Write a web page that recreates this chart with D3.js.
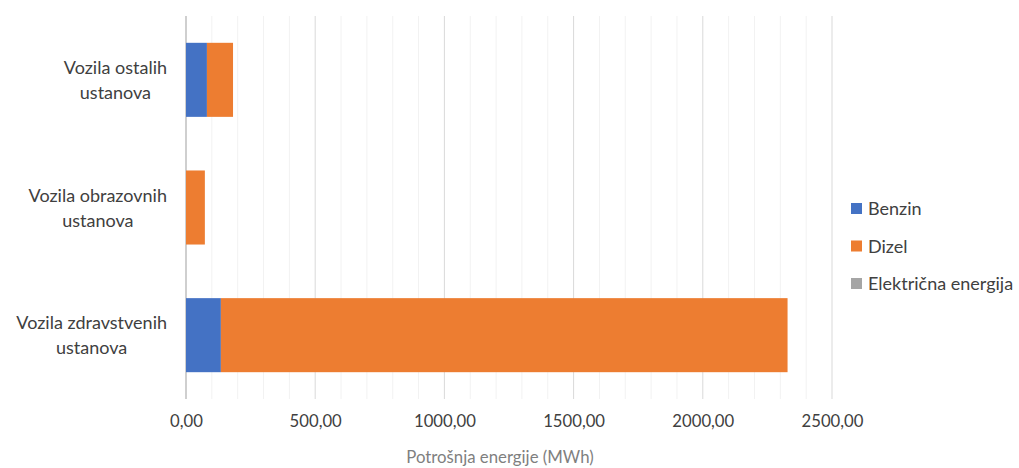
<!DOCTYPE html>
<html><head><meta charset="utf-8">
<script src="https://cdn.jsdelivr.net/npm/d3@7"></script>
<style>body{margin:0;background:#fff;} text{font-family:Lato,"Open Sans",sans-serif;}</style>
</head><body><svg id="c" width="1019" height="468"></svg>
<script>
const categories = ["Vozila ostalih ustanova", "Vozila obrazovnih ustanova", "Vozila zdravstvenih ustanova"];
const catLines = [["Vozila ostalih","ustanova"],["Vozila obrazovnih","ustanova"],["Vozila zdravstvenih","ustanova"]];
const seriesNames = ["Benzin", "Dizel", "Električna energija"];
const benzin = [81, 0, 135];
const dizel = [101, 73, 2193];
const elektricna = [0, 0, 0];
const xTicks = [0, 500, 1000, 1500, 2000, 2500];
const colors = ["#4472c4", "#ed7d31", "#a5a5a5"];

const svg = d3.select("#c");
const m = {left:186, right:832, top:16, bottom:399};
const x = d3.scaleLinear().domain([0,2500]).range([m.left, m.right]);
const y = d3.scaleBand().domain(categories).range([m.top, m.bottom]).paddingInner(0.42).paddingOuter(0.21);

// minor gridlines
svg.append("g").selectAll("line").data(d3.range(100,2500,100).filter(v=>v%500!==0)).join("line")
  .attr("x1",d=>x(d)).attr("x2",d=>x(d)).attr("y1",m.top).attr("y2",m.bottom)
  .attr("stroke","#f2f2f2").attr("stroke-width",1);
// major gridlines
svg.append("g").selectAll("line").data(xTicks.slice(1)).join("line")
  .attr("x1",d=>x(d)).attr("x2",d=>x(d)).attr("y1",m.top).attr("y2",m.bottom)
  .attr("stroke","#d9d9d9").attr("stroke-width",1);
svg.append("line").attr("x1",x(0)).attr("x2",x(0)).attr("y1",m.top).attr("y2",m.bottom)
  .attr("stroke","#bfbfbf").attr("stroke-width",1.5);

const data = categories.map((c,i)=>({cat:c, Benzin:benzin[i], Dizel:dizel[i], "Električna energija":elektricna[i]}));
const stack = d3.stack().keys(seriesNames)(data);
svg.append("g").selectAll("g").data(stack).join("g").attr("fill",(d,i)=>colors[i])
  .selectAll("rect").data(d=>d).join("rect")
  .attr("x",d=>x(d[0])).attr("width",d=>x(d[1])-x(d[0]))
  .attr("y",d=>y(d.data.cat)).attr("height",y.bandwidth());

// x axis labels
const ax = svg.append("g").attr("transform",`translate(0,${m.bottom})`)
  .call(d3.axisBottom(x).tickValues(xTicks).tickSize(0).tickPadding(16)
    .tickFormat(d=>d3.format(".2f")(d).replace(".",",")));
ax.select(".domain").remove();
ax.selectAll("text").attr("font-size",16.7).attr("fill","#404040").attr("font-family","Lato, sans-serif");

svg.append("text").attr("x",500).attr("y",463).attr("text-anchor","middle")
  .attr("font-size",16.8).attr("fill","#7f7f7f").text("Potrošnja energije (MWh)");

// y labels: block right-aligned at 167, lines centered within block
categories.forEach((c,i)=>{
  const cy = y(c)+y.bandwidth()/2;
  const g = svg.append("g");
  const t1 = g.append("text").attr("font-size",18).attr("fill","#404040").attr("text-anchor","middle")
    .attr("y", cy-6).text(catLines[i][0]);
  const w = t1.node().getComputedTextLength();
  const cx = 167 - w/2;
  t1.attr("x", cx);
  g.append("text").attr("font-size",18).attr("fill","#404040").attr("text-anchor","middle")
    .attr("x", cx).attr("y", cy+19).text(catLines[i][1]);
});

// legend
const lg = svg.append("g");
seriesNames.forEach((s,i)=>{
  const ly = 209 + i*37.5;
  lg.append("rect").attr("x",851).attr("y",ly-6).attr("width",11).attr("height",11).attr("fill",colors[i]);
  lg.append("text").attr("x",868).attr("y",ly+6).attr("font-size",18).attr("fill","#404040").text(s);
});
</script></body></html>
